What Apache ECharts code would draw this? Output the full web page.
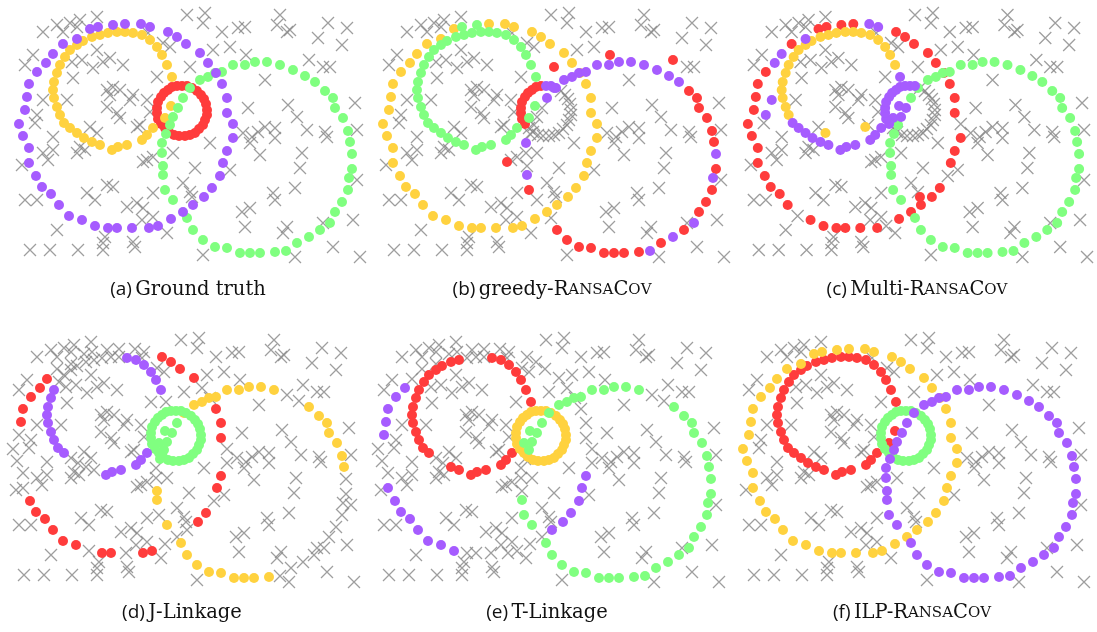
<!DOCTYPE html>
<html>
<head>
<meta charset="utf-8">
<script src="https://cdn.jsdelivr.net/npm/echarts@6/dist/echarts.min.js"></script>
<style>
  html, body { margin: 0; padding: 0; background: #fff; }
  #chart { width: 1097px; height: 632px; }
</style>
</head>
<body>
<div id="chart"></div>
<script>
// ---- Point sets (shared by every panel, local plot units) ----
// Large circle on the left
const bigLeft = [
  [19,124],[25,110],[27,97],[29,84],[37,72],[46,63],[53,54],[63,44],[77,39],[90,29],
  [98,27],[113,25],[125,24],[141,24],[150,27],[168,32],[177,37],[186,44],[200,53],[208,63],
  [216,73],[222,84],[227,98],[227,113],[233,124],[233,138],[227,151],[223,163],[220,176],[212,188],
  [204,197],[193,205],[183,212],[171,219],[158,226],[149,228],[132,228],[117,228],[108,228],[95,226],
  [82,220],[69,216],[59,205],[51,194],[42,187],[36,176],[29,163],[29,148],[23,136]
];
// Medium circle, upper left
const midLeft = [
  [172,77],[167,65],[162,55],[157,47],[150,40],[142,35],[133,33],[125,32],[117,32],[108,33],
  [100,35],[92,37],[83,41],[77,45],[70,50],[65,57],[60,65],[57,73],[54,82],[53,90],
  [54,98],[57,107],[60,115],[64,123],[70,128],[77,133],[84,138],[92,142],[100,145],[112,150],
  [118,147],[127,145],[142,140],[147,135],[153,128],[171,106],[165,118]
];
// Small circle in the middle
const smallMid = [
  [182,86],[187,86],[192,88],[197,91],[201,95],[204,99],[206,104],[207,110],[207,115],[205,120],
  [203,125],[199,129],[195,133],[190,135],[185,136],[179,136],[174,135],[169,132],[165,128],[161,124],
  [158,119],[157,113],[157,108],[158,102],[161,97],[164,93],[168,90],[172,87],[177,86]
];
// Large circle on the right
const bigRight = [
  [183,98],[190,88],[200,80],[208,77],[215,73],[222,72],[233,65],[245,65],[255,62],[267,62],
  [280,65],[293,70],[305,76],[315,82],[325,91],[333,98],[335,108],[343,118],[348,131],[350,142],
  [352,154],[352,169],[349,178],[348,190],[342,202],[335,212],[330,223],[320,230],[309,237],[297,243],
  [286,251],[275,252],[260,253],[250,253],[240,253],[227,248],[215,247],[203,240],[193,230],[187,218],
  [173,200],[165,190],[163,175],[163,166],[162,153],[162,143],[166,134],[170,125],[173,117],[178,108]
];
// Gross outliers
const clutter = [
  [43,32],[57,25],[63,32],[70,23],[77,27],[80,20],[97,17],[25,65],[33,55],[72,62],
  [82,60],[97,50],[103,62],[110,58],[123,65],[93,68],[73,78],[157,77],[163,43],[170,47],
  [148,33],[107,90],[110,95],[113,87],[120,90],[133,95],[107,107],[117,113],[120,118],[130,100],
  [147,100],[150,112],[43,100],[67,100],[35,123],[37,115],[53,137],[90,127],[97,133],[137,127],
  [140,125],[80,147],[77,153],[85,150],[43,153],[48,160],[22,165],[53,150],[143,162],[147,160],
  [153,157],[173,153],[25,200],[37,200],[87,193],[95,200],[107,185],[113,187],[127,207],[137,203],
  [143,208],[153,193],[153,217],[142,220],[57,230],[105,237],[103,243],[133,242],[135,247],[167,233],
  [30,250],[50,250],[78,250],[103,250],
  [187,15],[205,13],[203,23],[222,32],[238,28],[245,27],[230,47],[213,50],[190,67],[280,15],
  [277,25],[287,32],[290,30],[318,38],[328,23],[342,45],[347,28],[323,67],[330,67],[265,80],
  [248,108],[288,105],[297,117],[355,103],[243,133],[252,137],[258,132],[250,143],[265,127],[275,128],
  [275,138],[307,130],[325,132],[327,137],[357,130],[260,155],[302,153],[210,143],[195,168],[230,170],
  [300,168],[295,188],[183,183],[190,192],[192,197],[273,193],[275,200],[357,180],[242,212],[250,208],
  [245,227],[287,227],[283,233],[323,223],[353,220],[333,247],[295,257],[203,255],[360,257],
  [246,55],[309,60]
];

// ---- Per-method labels: p purple, y yellow, r red, g green, x unassigned ----
const captionTags  = ['(a)', '(b)', '(c)', '(d)', '(e)', '(f)'];
const captionPlain = ['Ground truth', 'greedy-', 'Multi-', 'J-Linkage', 'T-Linkage', 'ILP-'];
const captionCaps  = ['', 'RansaCov', 'RansaCov', '', '', 'RansaCov'];

const labelsBigLeft = [
  'pppppppppp pppppppppp pppppppppp pppppppppp ppppppppp',
  'yyyyyyyyyy ggyyyyyyyy yyyyyyyyyy yyyyyyyyyy yyyyyyyyy',
  'rrrrrpprpr rrrpprrrrr rrrrxrrrxr rrrrxrrrrr rxrrrrrrr',
  'xxrrrrrxxx xxxxxrrrrx xrrrxxrrxr rxxxrrxrrx rrrrrrxxx',
  'xpppppxxxx xxxxxxxxxx xxxxxxpppp ppxxxxxxxp pppppppxx',
  'yyyyyyyyyy yyyyyyyyyy yyyyyyyyyy yyyyyyyyyy yyyyyyyyy'
];
const labelsMidLeft = [
  'yyyyyyyyyy yyyyyyyyyy yyyyyyyyyy yyyyyyy',
  'gggggggggg gggggggggg gggggggggg ggggggg',
  'pyyyyyyyyy yyyyyyyyyy yyyppppppp ppppppp',
  'xppppppxxx xxxxxxpppp pppppxxxxp pppppgg',
  'rrrrrrrxxx rrrrrrrrrr rrrrrxxrrr rrrrrgg',
  'rrrrrrrrrr rrrrrrrrrr rrrrrrrrrr rrrrrrr'
];
const labelsSmallMid = [
  'rrrrrrrrrr rrrrrrrrrr rrrrrrrrr',
  'pppxxxxxxx xxxxxxxxxr rrrrrrrrr',
  'ppxxxxxxxx xxxxxxxxxp ppppppppp',
  'gggggggggg gggggggggg ggggggggg',
  'yyyyyyyyyy yyyyyyyyyy yyyyyyyyy',
  'gggggggggg gggggggggg ggggggggg'
];
const labelsBigRight = [
  'gggggggggg gggggggggg gggggggggg gggggggggg gggggggggg',
  'pppppppppp pppprrrrrr prprrrprpr prrrrrrrrx xrpxxpxxxx',
  'gggggggggg gggggggggg gggggggggg gggggggggg ggggggggpp',
  'gyyyyyyyyy yxxyyyyyyy xxxxxxxxxx xyyyyyyyyy yxyyxxgggg',
  'gggggggggg gxxggggggg gggggggggg gggggggggg gggxxxxggg',
  'pppppppppp pppppppppp pppppppppp pppppppppp pppppppppp'
];
// Outliers that a method absorbed into one of its models (index -> label)
const clutterAssigned = [
  {},
  {48: 'r', 82: 'r', 133: 'r', 134: 'r'},
  {32: 'p', 35: 'p', 38: 'y', 39: 'y', 118: 'r'},
  {},
  {},
  {}
];

// ---- Layout and styling ----
const panelPos = [
  {x: 0, y: 0}, {x: 364, y: 0}, {x: 729, y: 0},
  {x: -6, y: 325}, {x: 359, y: 325}, {x: 724, y: 325}
];
const PANEL_W = 370, PANEL_H = 270;
const captionCx = 188;
const captionY = [290, 613];

const colors = { p: '#a65cff', y: '#ffd23f', r: '#ff3c3c', g: '#80ff80' };
const drawOrder = ['x', 'r', 'y', 'g', 'p'];

const grids = [], xAxes = [], yAxes = [], series = [], graphics = [];

panelPos.forEach((pos, i) => {
  const left = Math.max(pos.x, 0);
  const xMin = left - pos.x;
  grids.push({ left: left, top: pos.y, width: PANEL_W, height: PANEL_H, containLabel: false });
  xAxes.push({ gridIndex: i, type: 'value', min: xMin, max: xMin + PANEL_W, show: false });
  yAxes.push({ gridIndex: i, type: 'value', min: 0, max: PANEL_H, inverse: true, show: false });

  const buckets = { x: [], r: [], y: [], g: [], p: [] };
  const sets = [
    [bigLeft, labelsBigLeft[i]],
    [midLeft, labelsMidLeft[i]],
    [smallMid, labelsSmallMid[i]],
    [bigRight, labelsBigRight[i]]
  ];
  sets.forEach(([pts, lab]) => {
    const s = lab.replace(/\s+/g, '');
    pts.forEach((pt, k) => { buckets[s[k] || 'x'].push(pt); });
  });
  clutter.forEach((pt, k) => { buckets[clutterAssigned[i][k] || 'x'].push(pt); });

  drawOrder.forEach((c, zi) => {
    const isX = c === 'x';
    series.push({
      type: 'scatter',
      xAxisIndex: i,
      yAxisIndex: i,
      data: buckets[c],
      symbol: isX ? 'path://M0,0L10,10M0,10L10,0' : 'circle',
      symbolSize: isX ? 12 : 10,
      itemStyle: isX
        ? { color: 'rgba(0,0,0,0)', borderColor: '#868686', borderWidth: 1.3 }
        : { color: colors[c], opacity: 1 },
      z: 2 + zi,
      silent: true,
      animation: false
    });
  });

  // caption with small-caps method name
  let rich = '{tag|' + captionTags[i] + '} {txt|' + captionPlain[i] + '}';
  for (const ch of captionCaps[i]) {
    rich += ch === ch.toUpperCase() ? '{txt|' + ch + '}' : '{sc|' + ch.toUpperCase() + '}';
  }
  graphics.push({
    type: 'text',
    x: pos.x + captionCx,
    y: captionY[i < 3 ? 0 : 1],
    style: {
      text: rich,
      align: 'center',
      verticalAlign: 'middle',
      fill: '#111',
      rich: {
        tag: { fontFamily: 'Open Sans', fontSize: 19, fill: '#111' },
        txt: { fontFamily: 'DejaVu Serif', fontSize: 19.5, fill: '#111' },
        sc:  { fontFamily: 'DejaVu Serif', fontSize: 15, fill: '#111' }
      }
    }
  });
});

const chart = echarts.init(document.getElementById('chart'), null, { renderer: 'canvas' });
chart.setOption({
  backgroundColor: '#ffffff',
  animation: false,
  grid: grids,
  xAxis: xAxes,
  yAxis: yAxes,
  series: series,
  graphic: graphics
});
</script>
</body>
</html>
